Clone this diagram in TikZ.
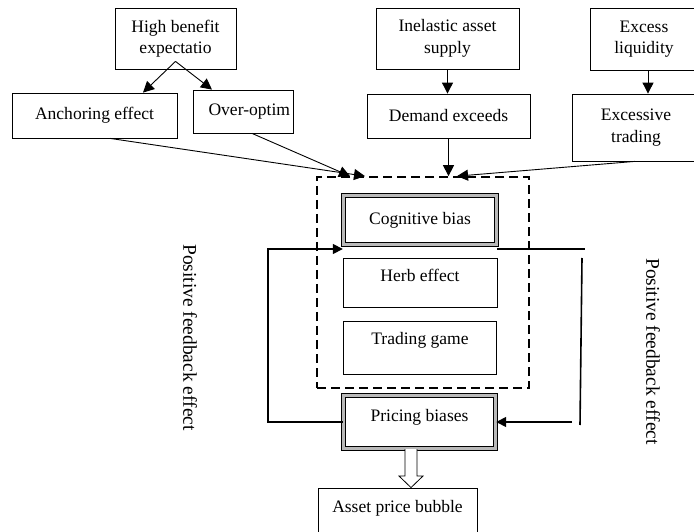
\documentclass[tikz,border=0pt]{standalone}
\usepackage{fontspec}
\setmainfont{Liberation Serif}
\usetikzlibrary{arrows.meta,positioning}

\begin{document}
\begin{tikzpicture}[x=1bp,y=-1bp]
    \tikzset{
        n/.style        =   { rectangle
                            , draw=black
                            , line width=0.8bp
                            , align=center
                            , inner sep=2bp
                            , font=\fontsize{17.6}{21.5}\selectfont
                            }
        , dbl/.style    =   { n
                            , line width=1bp
                            , double=gray!55
                            , double distance=2.6bp
                            }
        , grp/.style    =   { draw=black
                            , line width=1.7bp
                            , dash pattern=on 9bp off 5bp
                            , minimum width=212bp
                            , minimum height=211bp
                            , inner sep=0bp
                            }
        , arrow/.style  =   { line width=0.9bp
                            , -{Triangle[length=11bp,width=11bp]}
                            }
        , fb/.style     =   { line width=1.6bp
                            }
        , fbarrow/.style =  { fb
                            , -{Triangle[length=10bp,width=10bp]}
                            }
        , fbtext/.style =   { rotate=-90
                            , inner sep=0bp
                            , font=\fontsize{19.5}{23}\selectfont
                            }
    }
    \useasboundingbox (0,0) rectangle (694,532);

    \node(1)[n, minimum width=121bp, minimum height=61bp] at (175.5,38.5) {High benefit\\expectatio};
    \node(2)[n, minimum width=165bp, minimum height=45bp] at (94.5,115.5) {Anchoring effect};
    \node(3)[n, text width=94bp, inner xsep=3bp, align=right, minimum height=43bp] at (243,111.5) {Over-optim};
    \node(4)[n, minimum width=143bp, minimum height=61bp] at (447.5,38.5) {Inelastic asset\\supply};
    \node(5)[n, minimum width=108bp, minimum height=62bp] at (644,39) {Excess\\liquidity};
    \node(6)[n, minimum width=163bp, minimum height=44bp] at (448.5,116) {Demand exceeds};
    \node(7)[n, minimum width=128bp, minimum height=67bp] at (636,127.5) {Excessive\\trading};

    \node(8)[grp] at (423,282.5) {};
    \node(9)[dbl, minimum width=153.4bp, minimum height=49.4bp] at (420,220) {Cognitive bias};
    \node(10)[n, minimum width=154bp, text height=19bp, text depth=22bp, inner ysep=4bp] at (420,282.5) {Herb effect};
    \node(11)[n, minimum width=153bp, text height=19bp, text depth=26bp, inner ysep=4bp, below=14bp of 10] {Trading game};
    \node(12)[dbl, minimum width=152.4bp, text height=22bp, text depth=23bp, inner ysep=4bp] at (419.5,422) {Pricing biases};
    \node(13)[n, minimum width=159bp, text height=20bp, text depth=32bp, inner ysep=4bp] at (397.5,518) {Asset price bubble};

    \node(14)[fbtext] at (190,337.5) {Positive feedback effect};
    \node(15)[fbtext] at (653,351.5) {Positive feedback effect};

    \draw[arrow] ([yshift=8bp]1.south) -- (143,0 |- 2.north);
    \draw[arrow] ([yshift=8bp]1.south) -- (212,0 |- 3.north);
    \draw[arrow] (4.south) -- (4.south |- 6.north);
    \draw[arrow] (648,0 |- 5.south) -- (648,0 |- 7.north);
    \draw[arrow] (110,0 |- 2.south) -- (365,0 |- 8.north);
    \draw[arrow] (252,0 |- 3.south) -- (350,0 |- 8.north);
    \draw[arrow] (6.south) -- (6.south |- 8.north);
    \draw[arrow] (635,0 |- 7.south) -- (457,0 |- 8.north);

    % feedback loops
    \coordinate(a) at (268,249);
    \draw[fbarrow] (12.west) -| (a) -- (a -| 9.west);
    \draw[fb] (a -| 9.east) -- (585,249);
    \draw[fb] (582,258) -- (580,425);
    \draw[fbarrow] (572,0 |- 12.east) -- (12.east);

    % hollow arrow to bubble
    \draw[line width=0.8bp, fill=white] (405,0 |- 12.south) -- (405,476) -- (399,476) -- (411,0 |- 13.north)
        -- (423,476) -- (417,476) -- (417,0 |- 12.south);
\end{tikzpicture}
\end{document}
